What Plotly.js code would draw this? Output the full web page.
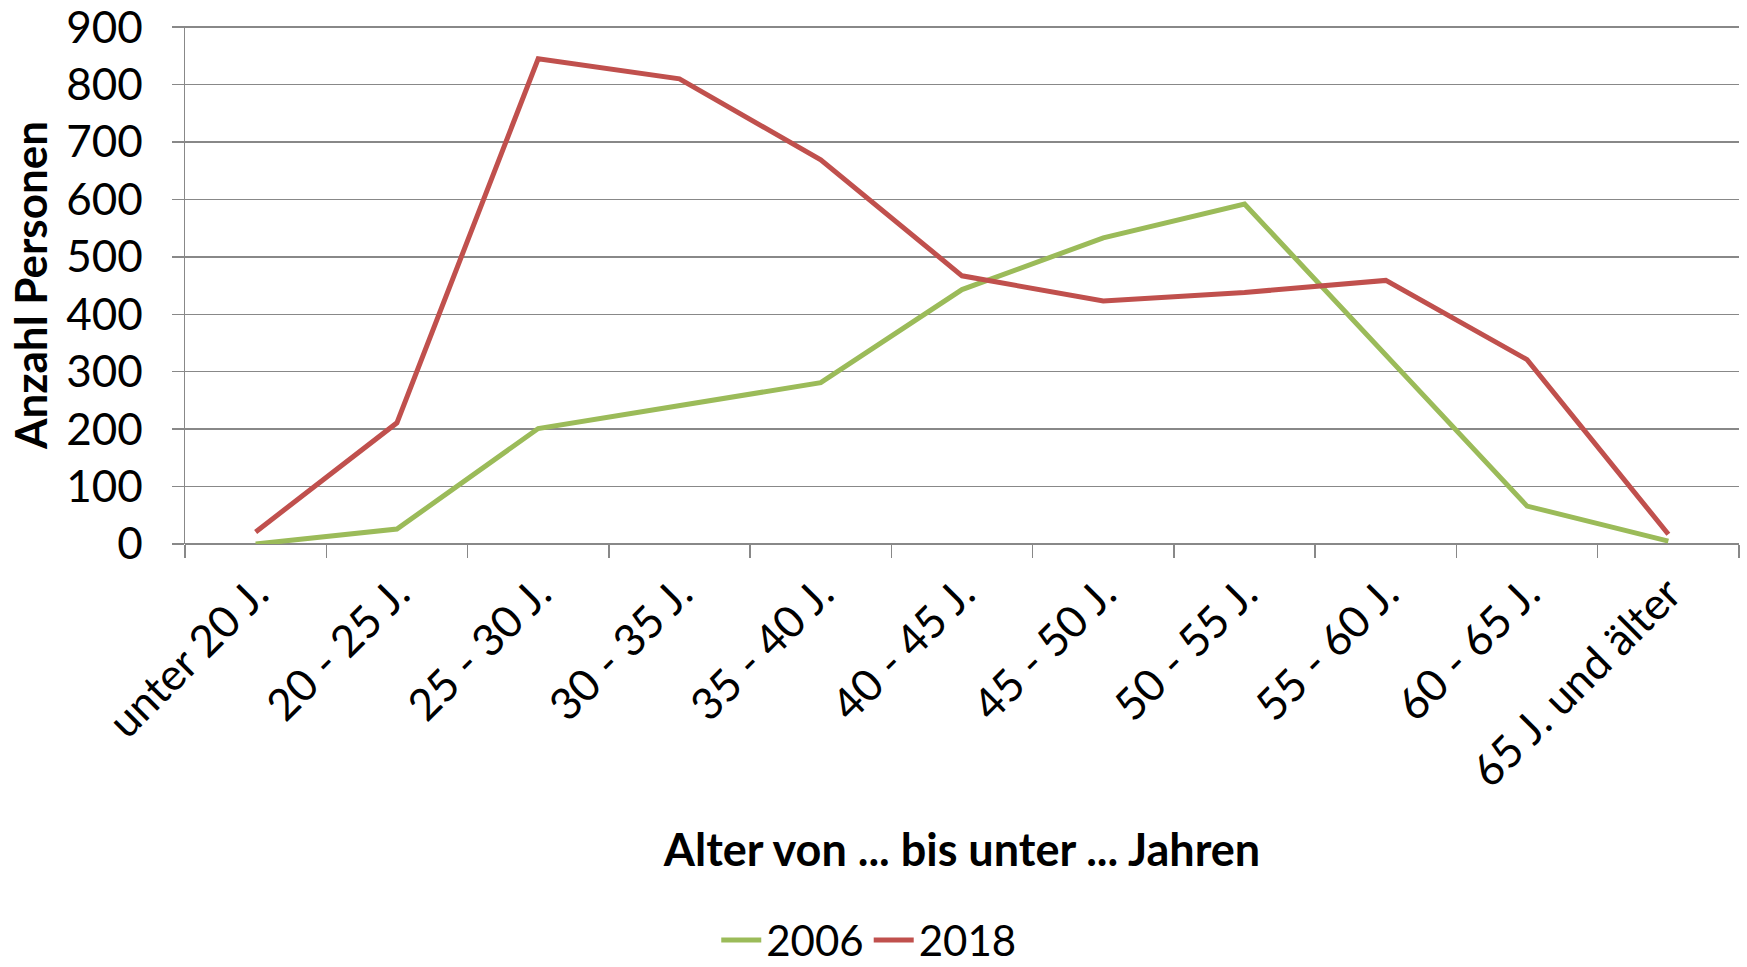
<!DOCTYPE html>
<html>
<head>
<meta charset="utf-8">
<script src="https://cdn.plot.ly/plotly-3.0.1.min.js"></script>
<style>html,body{margin:0;padding:0;background:#fff;}#chart{width:1747px;height:967px;}</style>
</head>
<body>
<div id="chart"></div>
<script>
var categories = ["unter 20 J.", "20 - 25 J.", "25 - 30 J.", "30 - 35 J.", "35 - 40 J.", "40 - 45 J.", "45 - 50 J.", "50 - 55 J.", "55 - 60 J.", "60 - 65 J.", "65 J. und älter"];
var values2006 = [0, 26, 201, 240, 281, 443, 533, 592, 328, 66, 5];
var values2018 = [21, 211, 845, 810, 669, 467, 423, 438, 459, 321, 17];
var seriesNames = ["2006", "2018"];
var yTicks = [0, 100, 200, 300, 400, 500, 600, 700, 800, 900];

var FONT = "Lato, 'Open Sans', sans-serif";
var traces = [
  {x: categories, y: values2006, name: seriesNames[0], type: "scatter", mode: "lines",
   line: {color: "#9BBB59", width: 5}},
  {x: categories, y: values2018, name: seriesNames[1], type: "scatter", mode: "lines",
   line: {color: "#C0504D", width: 5}}
];
var layout = {
  width: 1747, height: 967,
  margin: {l: 185, r: 8, t: 26, b: 423, autoexpand: false},
  paper_bgcolor: "#fff", plot_bgcolor: "#fff",
  font: {family: FONT, size: 43, color: "#000"},
  showlegend: true,
  legend: {orientation: "h", x: 0.44, xanchor: "center", y: -0.765, yanchor: "middle",
           font: {family: FONT, size: 42, color: "#000"}, itemwidth: 40, tracegroupgap: 0},
  xaxis: {
    type: "category", range: [-0.5, 10.5], tickson: "boundaries",
    ticks: "outside", ticklen: 13, tickcolor: "#888", tickwidth: 1.5,
    showgrid: false, showline: false, zeroline: false,
    tickangle: -45, ticklabelstandoff: 14, ticklabeloverflow: "allow",
    tickfont: {family: FONT, size: 44, color: "#000"},
    title: {text: "Alter von ... bis unter ... Jahren", standoff: 39,
            font: {family: FONT, size: 45, color: "#000", weight: "bold"}},
    automargin: false
  },
  yaxis: {
    range: [0, 902], tickvals: yTicks, ticktext: yTicks.map(String),
    ticks: "outside", ticklen: 12, tickcolor: "#888", tickwidth: 1.5,
    showgrid: true, gridcolor: "#888", gridwidth: 1.5,
    showline: true, linecolor: "#888", linewidth: 1.5,
    zeroline: true, zerolinecolor: "#888", zerolinewidth: 1.5,
    ticklabelstandoff: 20, ticklabeloverflow: "allow",
    tickfont: {family: FONT, size: 44, color: "#000"},
    title: {text: "Anzahl Personen", standoff: 4,
            font: {family: FONT, size: 44, color: "#000", weight: "bold"}},
    automargin: false
  }
};
Plotly.newPlot("chart", traces, layout, {displayModeBar: false, staticPlot: true});
</script>
</body>
</html>
